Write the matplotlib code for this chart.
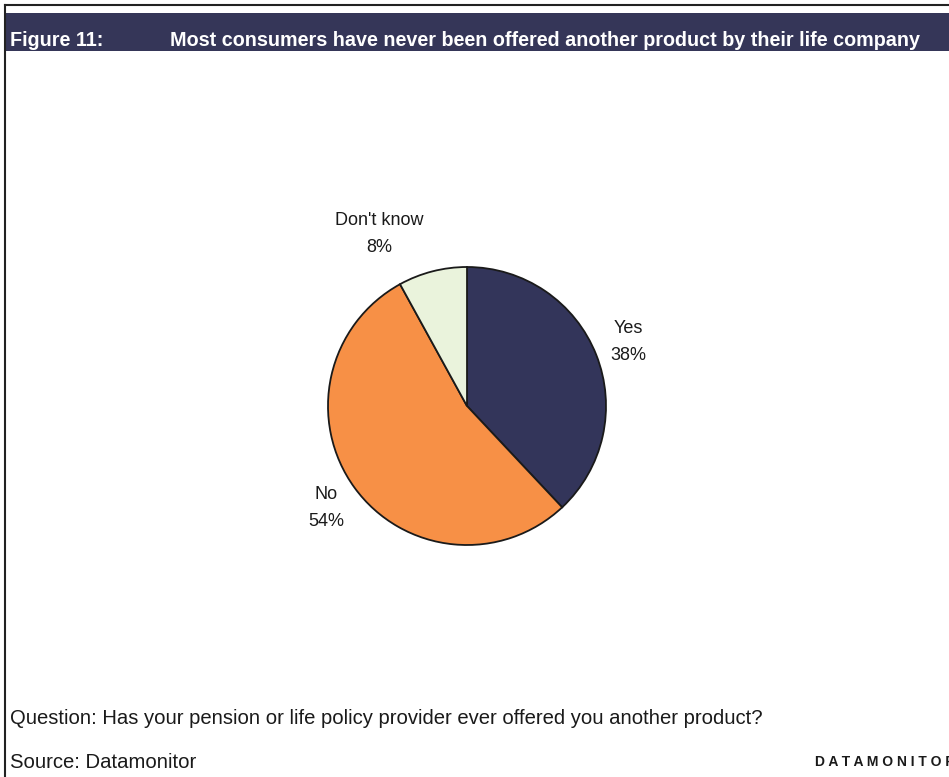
import matplotlib.pyplot as plt
from matplotlib.patches import Rectangle
from matplotlib.lines import Line2D

plt.rcParams['font.family'] = ['Liberation Sans', 'DejaVu Sans']

labels = ['Yes', 'No', "Don't know"]
shares = [38, 54, 8]
colors = ['#33355a', '#f79046', '#eaf3dc']

W, H = 949, 777
fig = plt.figure(figsize=(W / 100, H / 100), dpi=100)

def fx(px):
    return px / W

def fy(py):
    return 1 - py / H

# frame lines and title bar
fig.add_artist(Line2D([fx(5), 1], [fy(5), fy(5)], color='#222222', lw=1.5))
fig.add_artist(Line2D([fx(5), fx(5)], [fy(5), 0], color='#222222', lw=1.5))
fig.add_artist(Rectangle((fx(6), fy(51)), 1 - fx(6), fy(13) - fy(51),
                         facecolor='#353658', edgecolor='none'))
fig.text(fx(10), fy(41), 'Figure 11:', color='white', fontsize=14.2,
         fontweight='bold', va='center', ha='left')
fig.text(fx(170), fy(41),
         'Most consumers have never been offered another product by their life company',
         color='white', fontsize=14.2, fontweight='bold', va='center', ha='left')

# pie
cx, cy, r = 467, 406, 139
lim = 1.6
side = 2 * lim * r
ax = fig.add_axes([fx(cx - side / 2), fy(cy + side / 2), side / W, side / H])
wedges, texts = ax.pie(shares, colors=colors, startangle=90, counterclock=False,
                       labels=[f'{l}\n{v}%' for l, v in zip(labels, shares)],
                       labeldistance=1.25,
                       wedgeprops=dict(edgecolor='#1a1a1a', linewidth=1.3),
                       textprops=dict(fontsize=13, color='#1a1a1a', ha='center',
                                      va='center', linespacing=1.75))
texts[2].set_position((-0.63, 1.24))
ax.set_xlim(-lim, lim)
ax.set_ylim(-lim, lim)

# footer
fig.text(fx(10), fy(718), 'Question: Has your pension or life policy provider ever offered you another product?',
         fontsize=14.6, va='center', ha='left', color='#1a1a1a')
fig.text(fx(10), fy(762), 'Source: Datamonitor', fontsize=14.6, va='center', ha='left',
         color='#1a1a1a')
fig.text(fx(815), fy(762), ' '.join('DATAMONITOR'), fontsize=10, fontweight='bold',
         va='center', ha='left', color='#1a1a1a')

fig.savefig('out.png', dpi=100)
